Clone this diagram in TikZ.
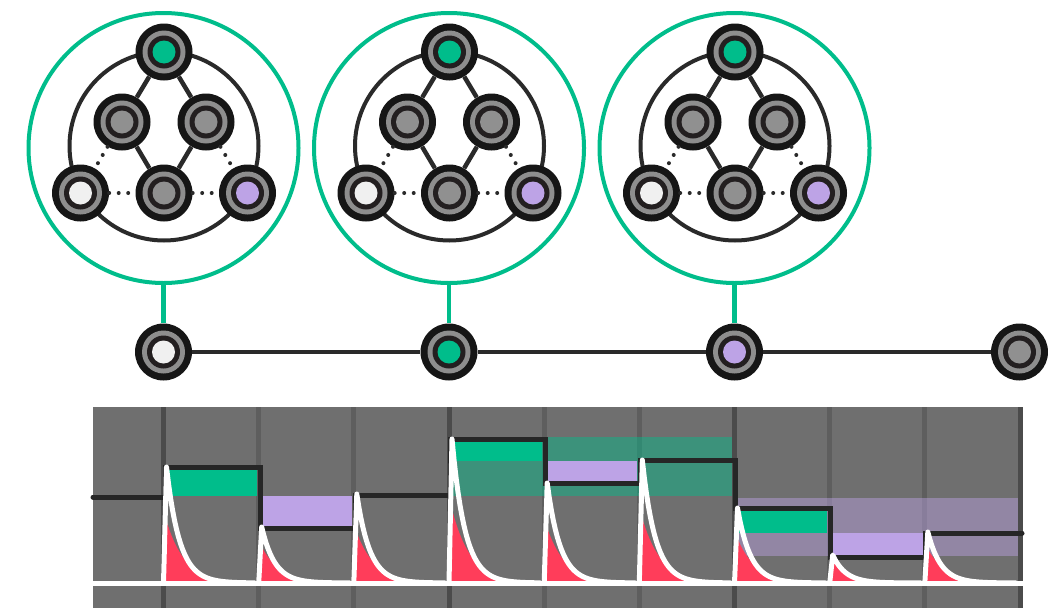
\documentclass[tikz,border=0pt]{standalone}
\usetikzlibrary{calc}
\definecolor{cgreen}{HTML}{00BD8B}
\definecolor{cpurple}{HTML}{BDA3E6}
\definecolor{cred}{HTML}{FF3D5A}
\definecolor{cbg}{HTML}{6F6F6F}
\definecolor{cmajor}{HTML}{4B4B4B}
\definecolor{cminor}{HTML}{5E5E5E}
\definecolor{cline}{HTML}{2A2A2A}
\definecolor{couter}{HTML}{161616}
\definecolor{cring}{HTML}{8E8E8E}
\definecolor{cdark}{HTML}{231F20}
\definecolor{cwhite}{HTML}{F0F0F0}
\definecolor{cgray}{HTML}{909090}
\definecolor{cstep}{HTML}{262626}
\tikzset{
 gnode/.style={circle, inner sep=0pt, minimum size=57pt, fill=couter, path picture={
   \fill[cring] (path picture bounding box.center) circle (21.5pt);
   \fill[cdark] (path picture bounding box.center) circle (16.5pt);
   \fill[#1] (path picture bounding box.center) circle (11.5pt);}},
 bigcirc/.style={circle, draw=cgreen, line width=4pt, fill=white, minimum size=270pt, inner sep=0pt},
 ringc/.style={circle, draw=cline, line width=4pt, minimum size=189pt, inner sep=0pt},
 edgesolid/.style={draw=cline, line width=4.5pt},
 edgedot/.style={draw=cline, line width=4pt, line cap=round, dash pattern=on 0pt off 9.5pt},
 tline/.style={draw=cline, line width=4.5pt},
 gconn/.style={draw=cgreen, line width=4.5pt},
 wline/.style={draw=white, line width=5pt, line join=round, line cap=round},
 stepline/.style={draw=cstep, line width=5pt, line join=miter, line cap=round},
 vmajor/.style={draw=cmajor, line width=5pt},
 vminor/.style={draw=cminor, line width=5pt},
}
\begin{document}
\begin{tikzpicture}[x=1pt,y=-1pt]
\useasboundingbox (0,0) rectangle (1048,608);

% ---------- chart ----------
\fill[cbg] (93,407) rectangle (1022.5,608);
\foreach \k in {1,2,4,5,7,8} \draw[vminor] ({163.5+95.17*\k},407) -- ++(0,201);
\foreach \k in {0,3,6,9} \draw[vmajor] ({163.5+95.17*\k},407) -- ++(0,201);

% bands
\fill[cgreen, opacity=0.45] (452,437) rectangle (732,496);
\fill[cpurple, opacity=0.45] (737,498) rectangle (1018,556);
% bars
\fill[cgreen] (166,467) rectangle (257,496);
\fill[cpurple] (261,496) rectangle (352,527);
\fill[cgreen] (452,439) rectangle (542,461);
\fill[cpurple] (547,461) rectangle (637,481);
\fill[cgreen] (737,508) rectangle (827,533);
\fill[cpurple] (832,533) rectangle (923,555);

% step line
\draw[stepline] (93,497) -- (165,497) -- (165,467) -- (260.5,467) -- (260.5,528)
  -- (355.5,528) -- (355.5,495) -- (450.5,495) -- (450.5,439) -- (545.5,439)
  -- (545.5,483) -- (640.5,483) -- (640.5,460) -- (735,460) -- (735,508)
  -- (830,508) -- (830,557) -- (925,557) -- (925,533) -- (1022,533);

% red fills
\foreach \xa/\tp in {163.5/467, 258.7/527, 353.8/494, 449/439, 544.2/483, 639.3/460, 734.5/508, 829.7/555, 924.8/532}{
  \pgfmathsetmacro{\hh}{583-\tp}
  \pgfmathsetmacro{\rh}{0.45*\hh+13}
  \begin{scope}
    \clip (\xa,583) -- ({\xa+3},\tp) -- plot[domain=0:88,samples=45] ({\xa+3+\x},{583-\hh*exp(-\x/13)}) -- ({\xa+95},583) -- cycle;
    \fill[cred] ({\xa+2},584) -- ({\xa+2},{583-\rh}) -- plot[domain=0:90,samples=45] ({\xa+2+\x},{583-\rh*exp(-\x/19)}) -- ({\xa+92},584) -- cycle;
  \end{scope}
}
% white curve
\draw[wline, line cap=butt] (93,583) -- (1022.5,583);
\foreach \xa/\tp in {163.5/467, 258.7/527, 353.8/494, 449/439, 544.2/483, 639.3/460, 734.5/508, 829.7/555, 924.8/532}{
  \pgfmathsetmacro{\hh}{583-\tp}
  \draw[wline] (\xa,583) -- ({\xa+3},\tp) -- plot[domain=0:88,samples=45] ({\xa+3+\x},{583-\hh*exp(-\x/13)});
}

% ---------- big circles with graphs ----------
\foreach \i in {1,2,3}{
  \pgfmathsetmacro{\cx}{163.5+285.5*(\i-1)}
  \begin{scope}[shift={(\cx,148)}]
    \node[bigcirc] (B\i) at (0,0) {};
    \node[ringc] (R\i) at (0.5,-2) {};
    \node[gnode=cgreen] (top\i) at (0.5,-96) {};
    \node[gnode=cgray] (ml\i) at (-41.5,-26) {};
    \node[gnode=cgray] (mr\i) at (42.5,-26) {};
    \node[gnode=cwhite] (bl\i) at (-83,45) {};
    \node[gnode=cgray] (bc\i) at (0.5,45) {};
    \node[gnode=cpurple] (br\i) at (84,45) {};
  \end{scope}
  \draw[edgesolid] (top\i) -- (ml\i);
  \draw[edgesolid] (top\i) -- (mr\i);
  \draw[edgesolid] (ml\i) -- (bc\i);
  \draw[edgesolid] (mr\i) -- (bc\i);
  \draw[edgedot] (ml\i) -- (bl\i);
  \draw[edgedot] (mr\i) -- (br\i);
  \draw[edgedot] (bl\i) -- (bc\i);
  \draw[edgedot] (bc\i) -- (br\i);
}

% ---------- timeline ----------
\node[gnode=cwhite] (T1) at (163.5,352) {};
\node[gnode=cgreen] (T2) at (449,352) {};
\node[gnode=cpurple] (T3) at (734.5,352) {};
\node[gnode=cgray] (T4) at (1019.5,352) {};
\draw[tline] (T1) -- (T2);
\draw[tline] (T2) -- (T3);
\draw[tline] (T3) -- (T4);
\draw[gconn] (B1) -- (T1);
\draw[gconn] (B2) -- (T2);
\draw[gconn] (B3) -- (T3);
\end{tikzpicture}
\end{document}
